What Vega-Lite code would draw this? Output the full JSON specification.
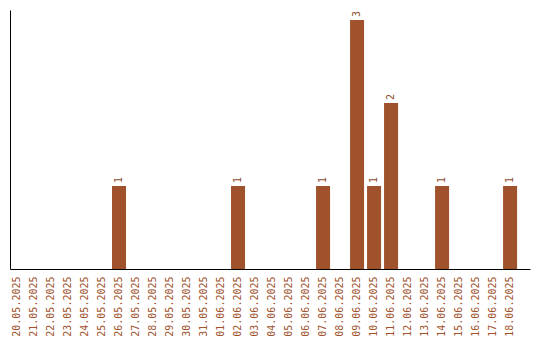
{
  "$schema": "https://vega.github.io/schema/vega-lite/v6.json",
  "autosize": "none",
  "padding": {"left": 10, "top": 10, "right": 10, "bottom": 71},
  "width": 520,
  "height": 259,
  "background": "white",
  "config": {"view": {"stroke": null}},
  "data": {"values": [
    {"date": "20.05.2025", "count": 0},
    {"date": "21.05.2025", "count": 0},
    {"date": "22.05.2025", "count": 0},
    {"date": "23.05.2025", "count": 0},
    {"date": "24.05.2025", "count": 0},
    {"date": "25.05.2025", "count": 0},
    {"date": "26.05.2025", "count": 1},
    {"date": "27.05.2025", "count": 0},
    {"date": "28.05.2025", "count": 0},
    {"date": "29.05.2025", "count": 0},
    {"date": "30.05.2025", "count": 0},
    {"date": "31.05.2025", "count": 0},
    {"date": "01.06.2025", "count": 0},
    {"date": "02.06.2025", "count": 1},
    {"date": "03.06.2025", "count": 0},
    {"date": "04.06.2025", "count": 0},
    {"date": "05.06.2025", "count": 0},
    {"date": "06.06.2025", "count": 0},
    {"date": "07.06.2025", "count": 1},
    {"date": "08.06.2025", "count": 0},
    {"date": "09.06.2025", "count": 3},
    {"date": "10.06.2025", "count": 1},
    {"date": "11.06.2025", "count": 2},
    {"date": "12.06.2025", "count": 0},
    {"date": "13.06.2025", "count": 0},
    {"date": "14.06.2025", "count": 1},
    {"date": "15.06.2025", "count": 0},
    {"date": "16.06.2025", "count": 0},
    {"date": "17.06.2025", "count": 0},
    {"date": "18.06.2025", "count": 1}
  ]},
  "encoding": {
    "x": {
      "field": "date", "type": "ordinal", "sort": null,
      "scale": {"type": "band", "paddingInner": 0.176, "paddingOuter": 0.38, "align": 0},
      "axis": {
        "title": null, "ticks": false, "domainColor": "black", "domainWidth": 1,
        "labelAngle": 270, "labelAlign": "right", "labelBaseline": "middle",
        "labelPadding": 7, "labelColor": "#a0522d", "labelFont": "DejaVu Sans Mono",
        "labelFontSize": 10, "grid": false
      }
    },
    "y": {
      "field": "count", "type": "quantitative",
      "scale": {"domain": [0, 3.12], "nice": false},
      "axis": {"title": null, "ticks": false, "labels": false, "grid": false, "domainColor": "black", "domainWidth": 1}
    }
  },
  "layer": [
    {"mark": {"type": "bar", "color": "#a0522d"}},
    {
      "transform": [{"filter": "datum.count > 0"}],
      "mark": {"type": "text", "angle": 270, "align": "left", "baseline": "middle", "dx": 3, "font": "DejaVu Sans Mono", "fontSize": 10, "color": "#8b4a2b"},
      "encoding": {"text": {"field": "count", "type": "quantitative"}}
    }
  ]
}
